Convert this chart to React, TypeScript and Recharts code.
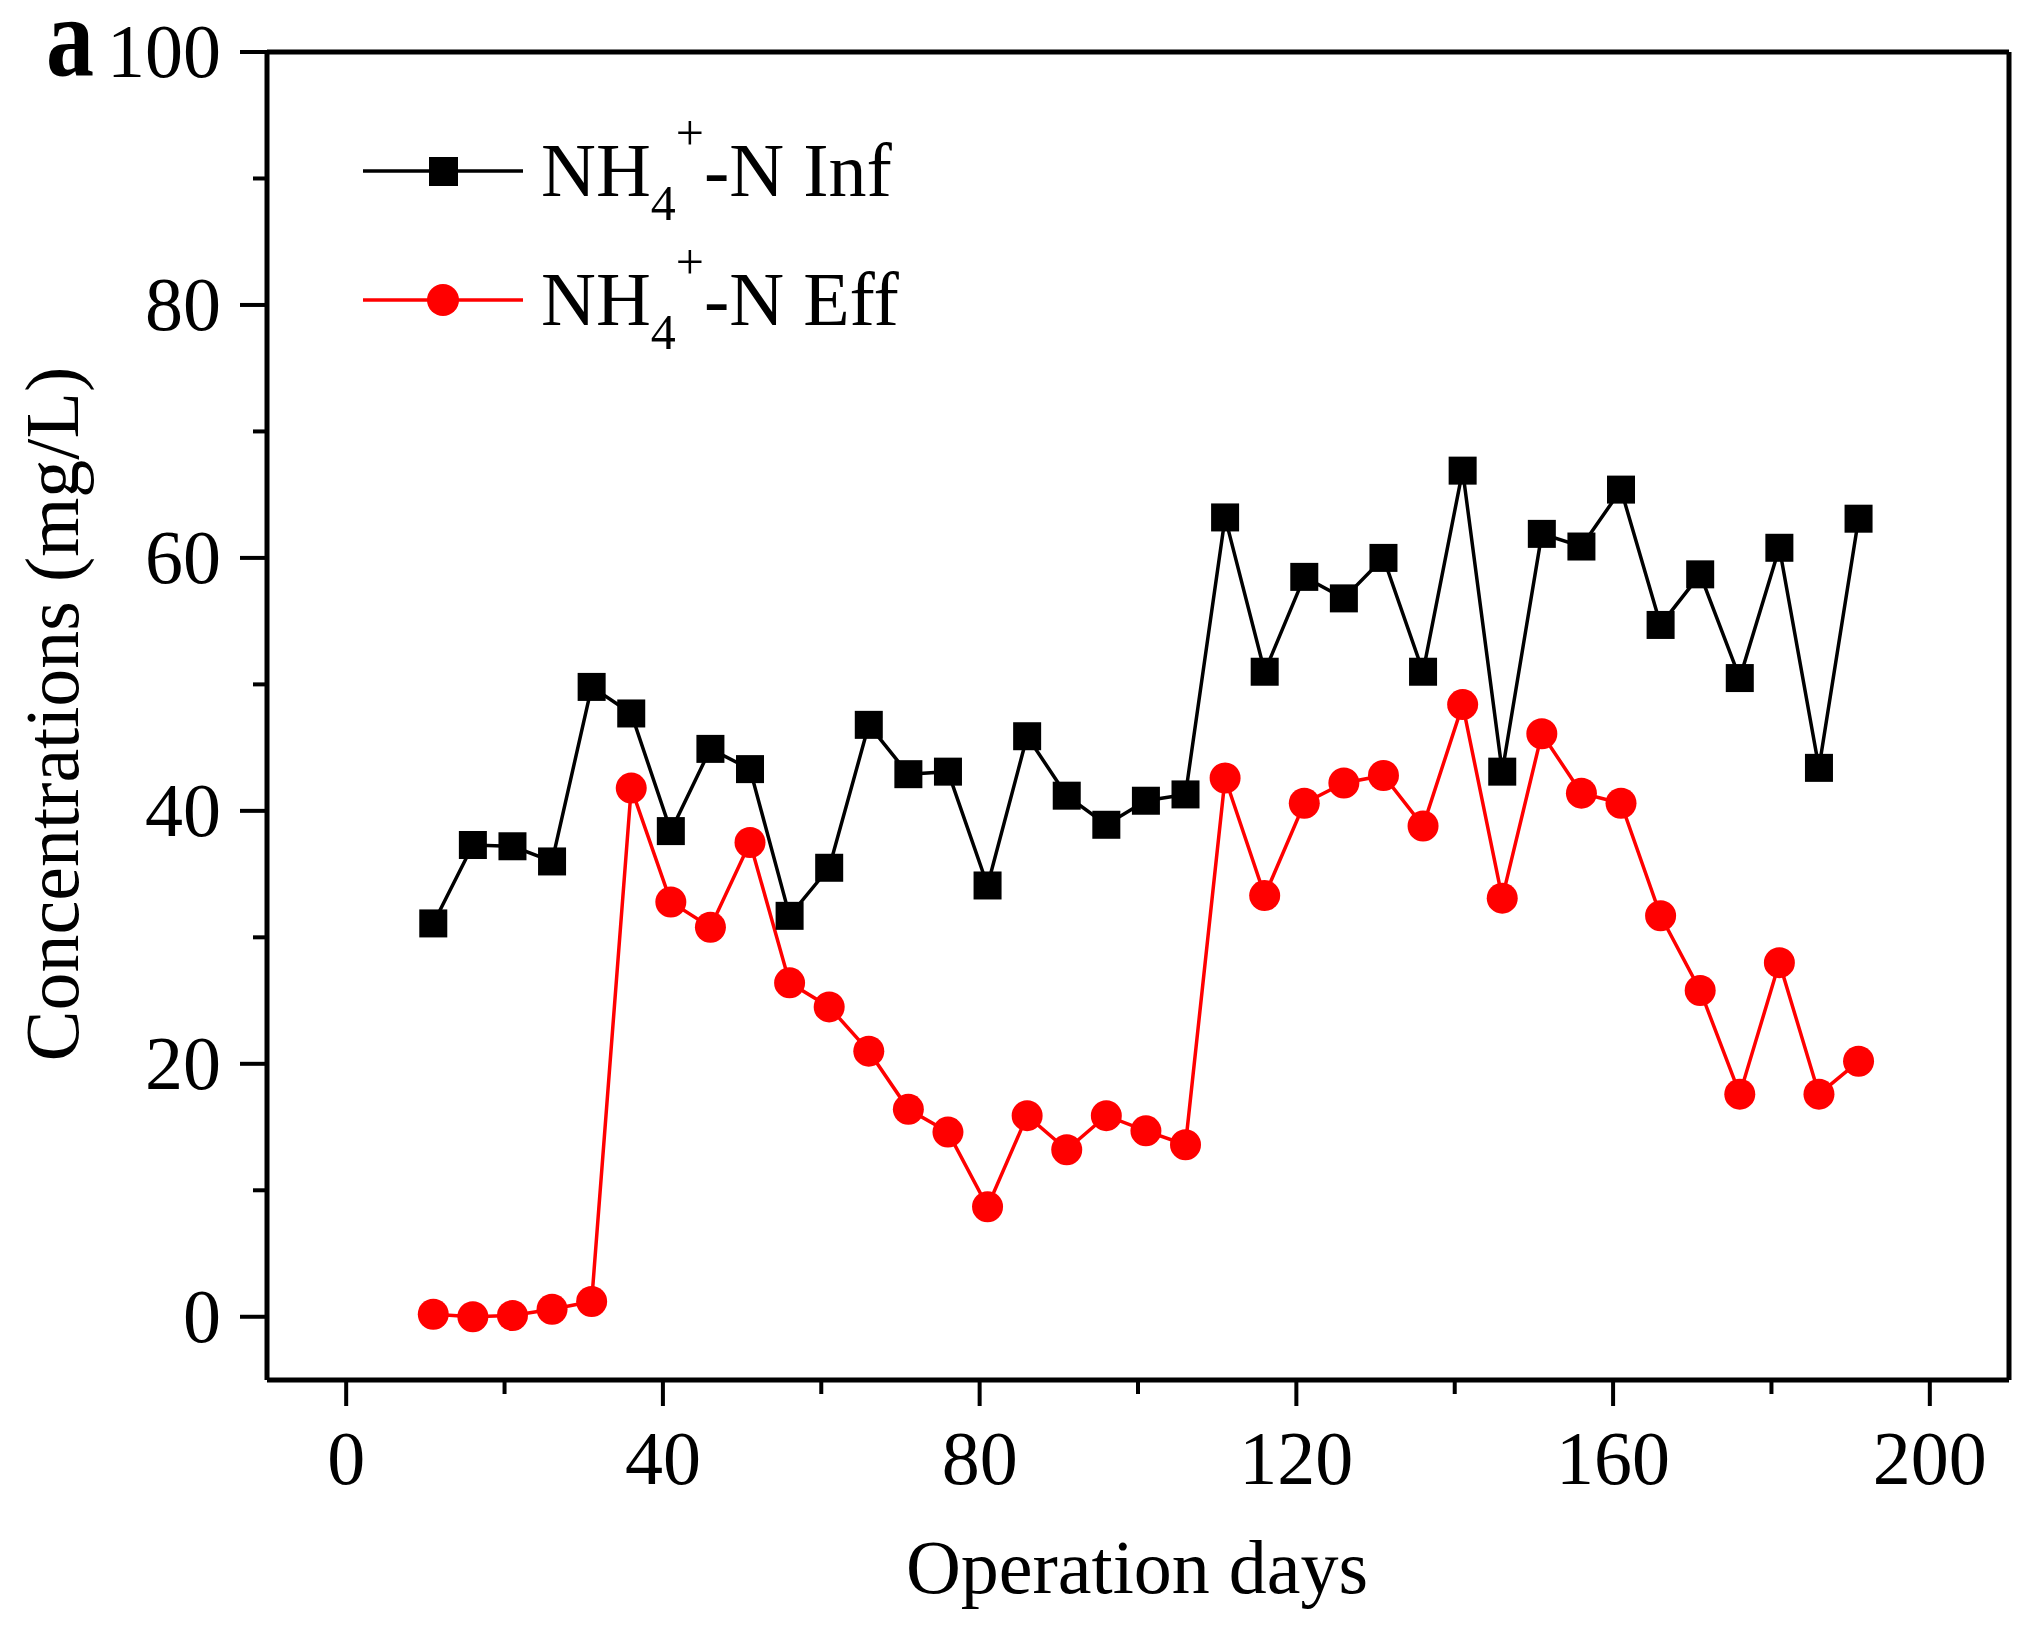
import React from 'react';
import { LineChart, Line, XAxis, YAxis, ReferenceLine, Customized } from 'recharts';

const days = [11, 16, 21, 26, 31, 36, 41, 46, 51, 56, 61, 66, 71, 76, 81, 86, 91, 96, 101, 106, 111, 116, 121, 126, 131, 136, 141, 146, 151, 156, 161, 166, 171, 176, 181, 186, 191];
const infValues = [31.1, 37.3, 37.2, 36.0, 49.8, 47.7, 38.4, 44.9, 43.3, 31.7, 35.5, 46.8, 42.9, 43.1, 34.1, 45.9, 41.2, 38.9, 40.8, 41.3, 63.2, 51.0, 58.5, 56.8, 60.0, 51.0, 66.9, 43.1, 61.9, 60.9, 65.4, 54.7, 58.7, 50.5, 60.8, 43.4, 63.1];
const effValues = [0.2, 0.0, 0.1, 0.6, 1.2, 41.8, 32.8, 30.8, 37.5, 26.4, 24.5, 21.0, 16.4, 14.6, 8.7, 15.9, 13.2, 15.9, 14.7, 13.6, 42.6, 33.3, 40.6, 42.2, 42.8, 38.8, 48.4, 33.1, 46.1, 41.4, 40.6, 31.7, 25.8, 17.6, 28.0, 17.6, 20.2];
const xTicks = [0, 20, 40, 60, 80, 100, 120, 140, 160, 180, 200];
const yTicks = [0, 10, 20, 30, 40, 50, 60, 70, 80, 90, 100];
const xMajorLabels = [0, 40, 80, 120, 160, 200];
const yMajorLabels = [0, 20, 40, 60, 80, 100];
const xDomain = [-10, 210];
const yDomain = [-5, 100];

const data = days.map((d, i) => ({ day: d, inf: infValues[i], eff: effValues[i] }));

const FONT = "'Liberation Serif', 'Times New Roman', serif";
const FS = 76;
const RED = '#ff0000';

const XTick = (props: any) => {
  const { x, y, payload } = props;
  const v = payload.value;
  const major = xMajorLabels.includes(v);
  return (
    <g>
      <line x1={x} x2={x} y1={y} y2={y + (major ? 26 : 14)} stroke="#000" strokeWidth={4} />
      {major && (
        <text x={x} y={y + 104} textAnchor="middle" fontSize={FS} fontFamily={FONT} fill="#000">
          {v}
        </text>
      )}
    </g>
  );
};

const YTick = (props: any) => {
  const { x, y, payload } = props;
  const v = payload.value;
  const major = yMajorLabels.includes(v);
  return (
    <g>
      <line x1={x - (major ? 27 : 14)} x2={x} y1={y} y2={y} stroke="#000" strokeWidth={4} />
      {major && (
        <text x={x - 46} y={y + 25} textAnchor="end" fontSize={FS} fontFamily={FONT} fill="#000">
          {v}
        </text>
      )}
    </g>
  );
};

const SquareDot = (props: any) => {
  const { cx, cy, index } = props;
  if (cx == null || cy == null) return <g key={`s${index}`} />;
  return <rect key={`s${index}`} x={cx - 14} y={cy - 14} width={28} height={28} fill="#000" />;
};

const CircleDot = (props: any) => {
  const { cx, cy, index } = props;
  if (cx == null || cy == null) return <g key={`c${index}`} />;
  return <circle key={`c${index}`} cx={cx} cy={cy} r={15.5} fill={RED} />;
};

const LegendLabel = ({ y, name }: { y: number; name: string }) => (
  <text x={541} y={y} fontSize={FS} fontFamily={FONT} fill="#000">
    NH
    <tspan fontSize={50} dy={24}>4</tspan>
    <tspan fontSize={50} dy={-70}>+</tspan>
    <tspan fontSize={FS} dy={46}>{`-N ${name}`}</tspan>
  </text>
);

const Overlay = () => (
  <g>
    <text x={46} y={75} fontSize={114} fontWeight="bold" fontFamily={FONT} fill="#000" textLength={48} lengthAdjust="spacingAndGlyphs">a</text>
    <line x1={363} x2={523} y1={171} y2={171} stroke="#000" strokeWidth={3.5} />
    <rect x={429} y={157} width={29} height={29} fill="#000" />
    <LegendLabel y={196} name="Inf" />
    <line x1={363} x2={523} y1={300} y2={300} stroke={RED} strokeWidth={3.5} />
    <circle cx={443} cy={300} r={16} fill={RED} />
    <LegendLabel y={325} name="Eff" />
    <text x={1137} y={1593} textAnchor="middle" fontSize={FS} fontFamily={FONT} fill="#000">Operation days</text>
    <text x={78} y={714} transform="rotate(-90 78 714)" textAnchor="middle" fontSize={FS} fontFamily={FONT} fill="#000">
      Concentrations (mg/L)
    </text>
  </g>
);

export default function App() {
  return (
    <div style={{ position: 'absolute', left: 0, top: 0, width: 2033, height: 1640, background: '#fff' }}>
      <LineChart width={2033} height={1640} data={data} margin={{ top: 52, right: 24, bottom: 0, left: 0 }}>
        <XAxis
          dataKey="day"
          type="number"
          domain={xDomain}
          ticks={xTicks}
          interval={0}
          allowDataOverflow
          height={260}
          tickSize={0}
          tickMargin={0}
          tickLine={false}
          axisLine={{ stroke: '#000', strokeWidth: 5 }}
          tick={<XTick />}
        />
        <YAxis
          type="number"
          domain={yDomain}
          ticks={yTicks}
          interval={0}
          allowDataOverflow
          width={267}
          tickSize={0}
          tickMargin={0}
          tickLine={false}
          axisLine={{ stroke: '#000', strokeWidth: 5 }}
          tick={<YTick />}
        />
        <ReferenceLine y={yDomain[1]} stroke="#000" strokeWidth={5} ifOverflow="visible" />
        <ReferenceLine x={xDomain[1]} stroke="#000" strokeWidth={5} ifOverflow="visible" />
        <Line
          type="linear"
          dataKey="inf"
          stroke="#000"
          strokeWidth={3.5}
          dot={SquareDot}
          activeDot={false}
          isAnimationActive={false}
        />
        <Line
          type="linear"
          dataKey="eff"
          stroke={RED}
          strokeWidth={3.5}
          dot={CircleDot}
          activeDot={false}
          isAnimationActive={false}
        />
        <Customized component={Overlay} />
      </LineChart>
    </div>
  );
}
